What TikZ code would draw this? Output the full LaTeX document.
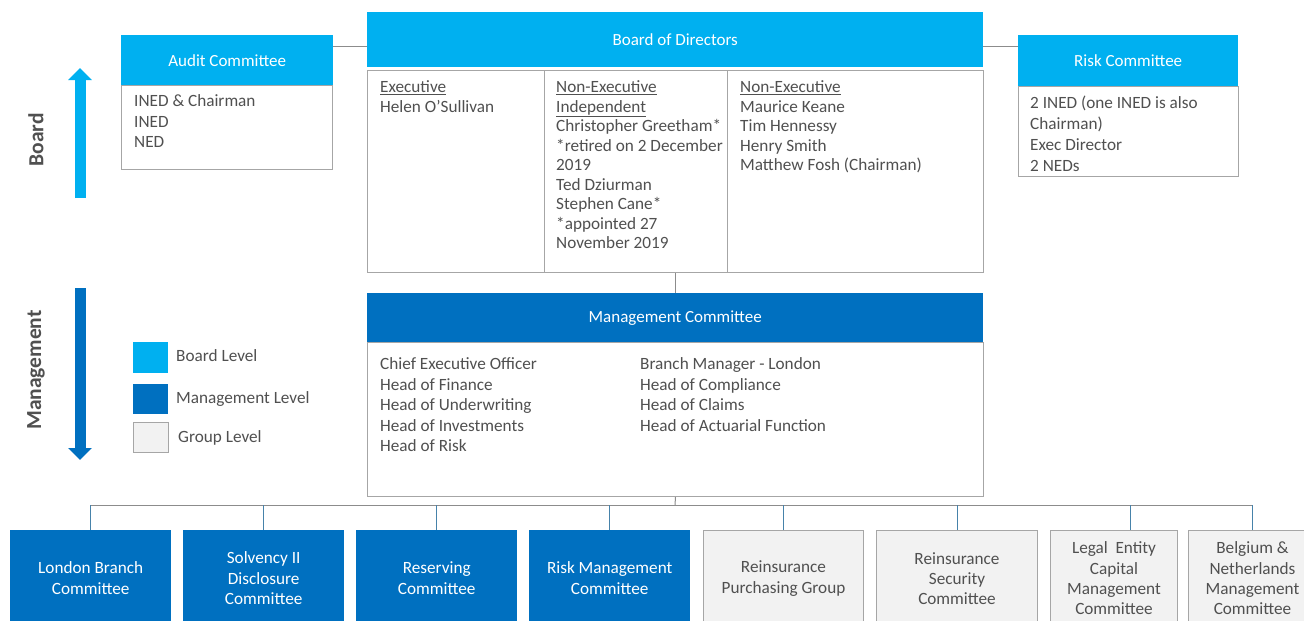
\documentclass[tikz,border=0pt]{standalone}
\usepackage{fontspec}
\setmainfont{Carlito}
\usetikzlibrary{arrows.meta}
\definecolor{lblue}{RGB}{0,176,240}
\definecolor{dblue}{RGB}{0,112,192}
\definecolor{gbox}{RGB}{242,242,242}
\definecolor{bord}{RGB}{166,166,166}
\definecolor{txtc}{RGB}{80,80,80}
\definecolor{linec}{RGB}{140,140,140}
\definecolor{dropc}{RGB}{70,130,170}
\newcommand\txtlines[5]{\foreach \itm [count=\i] in {#5}{\node[txt] (#1\i) at (#2,{#3+5.5+(\i-1)*#4}) {\itm};}}
\tikzset{
  hdr/.style={text=white, draw=none, inner sep=0, anchor=north west, font=\fontsize{17}{20}\selectfont},
  hdrL/.style={hdr, fill=lblue},
  hdrD/.style={hdr, fill=dblue},
  bodybox/.style={draw=bord, line width=1pt, fill=white, anchor=north west, inner sep=0},
  txt/.style={anchor=base west, inner sep=0, text=txtc, font=\fontsize{17.2}{20}\selectfont},
  bot/.style={anchor=north west, inner sep=0, align=center, font=\fontsize{17.2}{20.3}\selectfont, minimum height=96pt},
  botM/.style={bot, fill=dblue, text=white},
  botG/.style={bot, fill=gbox, draw=bord, line width=1pt, text=txtc},
  side/.style={rotate=90, inner sep=0, text=txtc, font=\fontsize{21.5}{24}\selectfont\bfseries},
  conn/.style={draw=linec, line width=1pt},
  drop/.style={draw=dropc, line width=1pt},
}
\begin{document}
\begin{tikzpicture}[x=1pt,y=-1pt]
\useasboundingbox[fill=white] (0,0) rectangle (1304,621);
% side arrows and labels
\coordinate (ba1) at (80,198); \coordinate (ba2) at (80,68);
\draw[lblue, line width=11pt, -{Triangle[width=23pt,length=12pt]}] (ba1) -- (ba2);
\coordinate (ma1) at (80,288); \coordinate (ma2) at (80,460);
\draw[dblue, line width=11pt, -{Triangle[width=23pt,length=12pt]}] (ma1) -- (ma2);
\node[side] (lblB) at (36,140) {Board};
\node[side] (lblM) at (36,370) {Management};
% legend
\node[fill=lblue, minimum width=35pt, minimum height=31pt, anchor=north west, inner sep=0] (lg1) at (133,342) {};
\node[fill=dblue, minimum width=35pt, minimum height=30pt, anchor=north west, inner sep=0] (lg2) at (133,384) {};
\node[fill=gbox, draw=bord, line width=1pt, minimum width=35pt, minimum height=30pt, anchor=north west, inner sep=0] (lg3) at (133,422) {};
\node[txt] (lg1t) at (176,361.5) {Board Level};
\node[txt] (lg2t) at (176,403.5) {Management Level};
\node[txt] (lg3t) at (178,442.5) {Group Level};
% Board of directors
\node[hdrL, minimum width=616pt, minimum height=55pt] (bod) at (367,12) {Board of Directors};
\node[bodybox, minimum width=177pt, minimum height=202pt] (bex) at (367,70) {};
\node[bodybox, minimum width=183pt, minimum height=202pt] (bni) at (544,70) {};
\node[bodybox, minimum width=256pt, minimum height=202pt] (bne) at (727,70) {};
\txtlines{ex}{380}{87}{20}{\underline{Executive}, Helen O’Sullivan}
\txtlines{ni}{556}{87}{19.5}{\underline{Non-Executive}, \underline{Independent}, Christopher Greetham*, *retired on 2 December, 2019, Ted Dziurman, Stephen Cane*, *appointed 27, November 2019}
\txtlines{ne}{740}{87}{19.6}{\underline{Non-Executive}, Maurice Keane, Tim Hennessy, Henry Smith, Matthew Fosh (Chairman)}
% Audit committee
\node[hdrL, minimum width=212pt, minimum height=50pt] (audh) at (121,35) {Audit Committee};
\node[bodybox, minimum width=211pt, minimum height=84pt] (audb) at (121,85) {};
\txtlines{au}{134}{101}{20.5}{INED \& Chairman, INED, NED}
% Risk committee
\node[hdrL, minimum width=220pt, minimum height=51pt] (riskh) at (1018,35) {Risk Committee};
\node[bodybox, minimum width=220pt, minimum height=90pt] (riskb) at (1018,86) {};
\txtlines{rk}{1030}{103}{21}{2 INED (one INED is also, Chairman), Exec Director, 2 NEDs}
% connectors to committees
\draw[conn] ([yshift=-11pt]audh.north east) -- ([yshift=-11pt]audh.north east -| bod.west);
\draw[conn] ([yshift=-11pt]riskh.north west -| bod.east) -- ([yshift=-11pt]riskh.north west);
% Management committee
\node[hdrD, minimum width=616pt, minimum height=49pt] (mgh) at (367,293) {Management Committee};
\node[bodybox, minimum width=616pt, minimum height=154pt] (mgb) at (367,342) {};
\txtlines{ml}{380}{364}{20.5}{Chief Executive Officer, Head of Finance, Head of Underwriting, Head of Investments, Head of Risk}
\txtlines{mr}{640}{364}{20.5}{Branch Manager - London, Head of Compliance, Head of Claims, Head of Actuarial Function}
\draw[conn] (bod.south |- bni.south) -- (mgh.north);
% bottom committees
\node[botM, minimum width=161pt] (b1) at (10,530) {London Branch\\Committee};
\node[botM, minimum width=161pt] (b2) at (183,530) {Solvency II\\Disclosure\\Committee};
\node[botM, minimum width=161pt] (b3) at (356,530) {Reserving\\Committee};
\node[botM, minimum width=161pt] (b4) at (529,530) {Risk Management\\Committee};
\node[botG, minimum width=160pt] (b5) at (703,530) {Reinsurance\\Purchasing Group};
\node[botG, minimum width=161pt] (b6) at (876,530) {Reinsurance\\Security\\Committee};
\node[botG, minimum width=127pt] (b7) at (1050,530) {Legal~ Entity\\Capital\\Management\\Committee};
\node[botG, minimum width=128pt] (b8) at (1188,530) {Belgium \&\\Netherlands\\Management\\Committee};
\coordinate (bus) at (675,505);
\draw[conn] (mgb.south) -- (bus);
\draw[conn] (b1.north |- bus) -- (b8.north |- bus);
\foreach \b in {b1,b2,b3,b4,b5,b6,b8} \draw[drop] (\b.north |- bus) -- (\b.north);
\draw[drop] ([xshift=16pt]b7.north |- bus) -- ([xshift=16pt]b7.north);
\end{tikzpicture}
\end{document}
